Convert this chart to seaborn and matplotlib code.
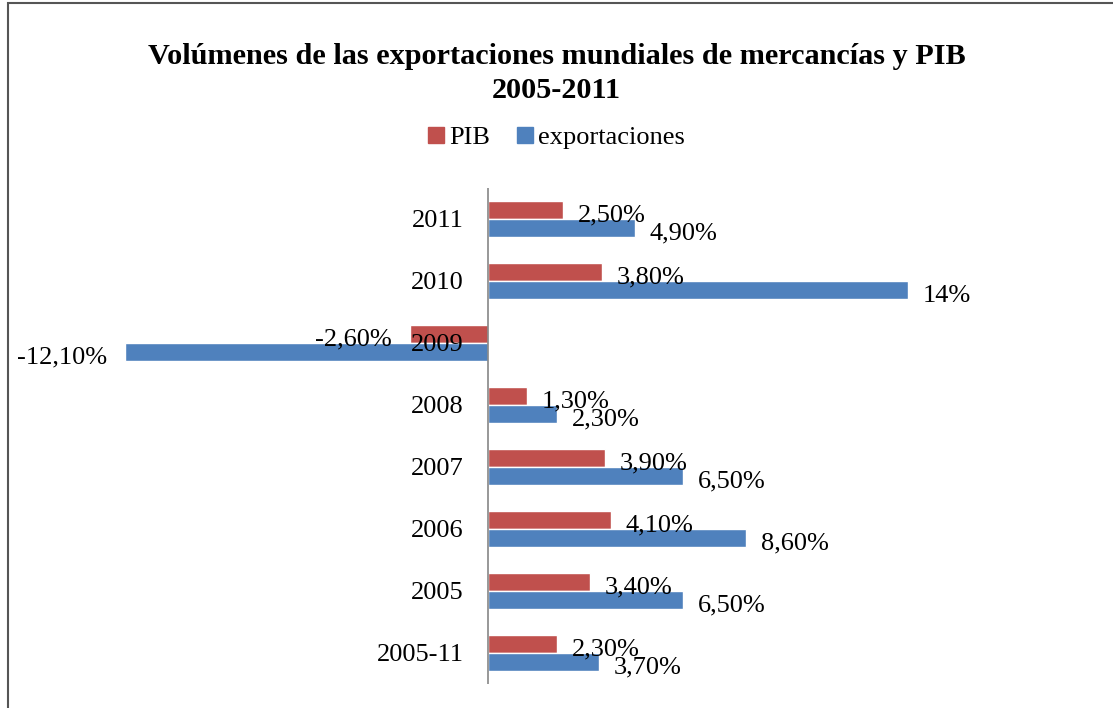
import pandas as pd
import numpy as np
from matplotlib import pyplot as plt
from matplotlib.patches import Rectangle
import seaborn as sns

# data (top to bottom)
years = ["2011", "2010", "2009", "2008", "2007", "2006", "2005", "2005-11"]
pib = [2.5, 3.8, -2.6, 1.3, 3.9, 4.1, 3.4, 2.3]
exportaciones = [4.9, 14.0, -12.1, 2.3, 6.5, 8.6, 6.5, 3.7]
pib_labels = ["2,50%", "3,80%", "-2,60%", "1,30%", "3,90%", "4,10%", "3,40%", "2,30%"]
exp_labels = ["4,90%", "14%", "-12,10%", "2,30%", "6,50%", "8,60%", "6,50%", "3,70%"]

df = pd.DataFrame({
    "year": years * 2,
    "valor": pib + exportaciones,
    "serie": ["PIB"] * len(years) + ["exportaciones"] * len(years),
})

sns.set_style("white")
plt.rcParams["font.family"] = ["Liberation Serif", "DejaVu Serif"]
plt.rcParams["text.color"] = "black"

fig = plt.figure(figsize=(11.13, 7.08), dpi=100)
ax = fig.add_axes([38 / 1113, 1 - 684 / 708, 900 / 1113, (684 - 188) / 708])

sns.barplot(data=df, y="year", x="valor", hue="serie", order=years,
            hue_order=["PIB", "exportaciones"], orient="h",
            palette={"PIB": "#C0504D", "exportaciones": "#4F81BD"}, saturation=1,
            width=0.58, edgecolor="white", linewidth=1, ax=ax, legend=False)

ax.set_xlim(-15, 15)
ax.set_ylim(7.5, -0.5)
for s in ax.spines.values():
    s.set_visible(False)
ax.axvline(0, color="#868686", lw=1.2)
ax.set_xticks([])
ax.set_yticks([])
ax.set_xlabel("")
ax.set_ylabel("")

fs = 19
# category labels sit left of the zero line
for i, y in enumerate(years):
    ax.text(-0.8, i + 0.03, y, ha="right", va="center", fontsize=fs, color="black")

off = 0.145
for i in range(len(years)):
    for val, lab, dy in [(pib[i], pib_labels[i], -off), (exportaciones[i], exp_labels[i], off)]:
        yy = i + dy + 0.09
        if val >= 0:
            ax.text(val + 0.5, yy, lab, ha="left", va="center", fontsize=fs, color="black")
        else:
            ax.text(val - 0.6, yy, lab, ha="right", va="center", fontsize=fs, color="black")

fig.text(0.5, 1 - 57 / 708, "Volúmenes de las exportaciones mundiales de mercancías y PIB",
         ha="center", va="center", fontsize=21.8, fontweight="bold", color="black")
fig.text(0.5, 1 - 91 / 708, "2005-2011", ha="center", va="center",
         fontsize=21.8, fontweight="bold", color="black")

# legend
handles = [Rectangle((0, 0), 1, 1, color="#C0504D"), Rectangle((0, 0), 1, 1, color="#4F81BD")]
leg = fig.legend(handles, ["PIB", "exportaciones"], loc="center", bbox_to_anchor=(0.5, 1 - 138 / 708),
                 ncol=2, frameon=False, fontsize=fs, handlelength=0.6, handleheight=0.6,
                 handletextpad=0.2, columnspacing=1.0)
for t in leg.get_texts():
    t.set_color("black")

fig.patches.append(Rectangle((8 / 1113, -0.05), 1.2, 1.05 - 3 / 708, transform=fig.transFigure,
                             fill=False, edgecolor="#555555", lw=1.5))

fig.savefig("out.png", dpi=100)
